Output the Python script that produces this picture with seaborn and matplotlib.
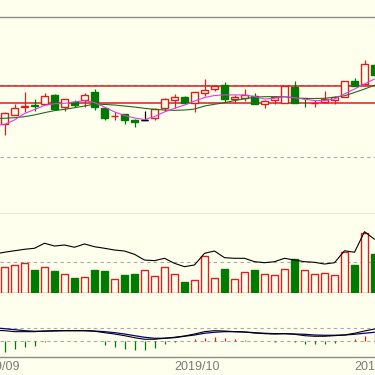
import numpy as np
import pandas as pd
import matplotlib
matplotlib.use("Agg")
import matplotlib.pyplot as plt
import matplotlib.transforms as mtransforms
import seaborn as sns

# ---------------- data ----------------
opens = [12.229, 12.295, 12.347, 12.358, 12.368, 12.431, 12.347, 12.382, 12.399, 12.451,
         12.340, 12.285, 12.299, 12.260, 12.257, 12.269, 12.340, 12.396, 12.415, 12.375,
         12.442, 12.472, 12.500, 12.403, 12.413, 12.427, 12.368, 12.399, 12.377, 12.488,
         12.413, 12.375, 12.384, 12.396, 12.419, 12.528, 12.507, 12.639]
highs = [12.313, 12.368, 12.451, 12.403, 12.444, 12.434, 12.406, 12.396, 12.444, 12.472,
         12.347, 12.309, 12.302, 12.264, 12.319, 12.337, 12.413, 12.438, 12.427, 12.451,
         12.542, 12.493, 12.523, 12.431, 12.469, 12.441, 12.396, 12.420, 12.493, 12.528,
         12.413, 12.399, 12.458, 12.424, 12.531, 12.549, 12.674, 12.646]
lows = [12.153, 12.292, 12.313, 12.319, 12.365, 12.330, 12.319, 12.347, 12.347, 12.326,
        12.257, 12.257, 12.229, 12.205, 12.257, 12.260, 12.319, 12.340, 12.375, 12.313,
        12.424, 12.455, 12.382, 12.378, 12.389, 12.365, 12.340, 12.368, 12.375, 12.375,
        12.349, 12.344, 12.378, 12.368, 12.417, 12.493, 12.503, 12.563]
closes = [12.306, 12.340, 12.351, 12.354, 12.427, 12.333, 12.403, 12.361, 12.431, 12.344,
          12.271, 12.288, 12.260, 12.243, 12.257, 12.333, 12.403, 12.417, 12.378, 12.448,
          12.465, 12.490, 12.403, 12.420, 12.431, 12.366, 12.392, 12.419, 12.493, 12.377,
          12.410, 12.378, 12.403, 12.420, 12.528, 12.495, 12.644, 12.569]

# moving averages (first value belongs to the day before the first visible candle)
ma5 = [12.218, 12.226, 12.257, 12.302, 12.330, 12.358, 12.370, 12.373, 12.382, 12.392, 12.378,
       12.347, 12.313, 12.288, 12.271, 12.260, 12.281, 12.313, 12.338, 12.361, 12.389,
       12.413, 12.427, 12.431, 12.431, 12.431, 12.420, 12.403, 12.408, 12.419, 12.412,
       12.401, 12.392, 12.392, 12.403, 12.438, 12.472, 12.507, 12.542]
ma10 = [12.265, 12.269, 12.273, 12.280, 12.292, 12.308, 12.322, 12.331, 12.342, 12.354, 12.368,
        12.365, 12.361, 12.354, 12.347, 12.338, 12.331, 12.326, 12.324, 12.326, 12.333,
        12.354, 12.366, 12.377, 12.392, 12.404, 12.415, 12.419, 12.419, 12.418, 12.411,
        12.406, 12.406, 12.408, 12.415, 12.425, 12.448, 12.472, 12.498]

volume = [2.51, 2.71, 2.96, 2.25, 2.51, 2.15, 1.83, 1.47, 1.56, 2.25,
          2.15, 1.37, 1.76, 1.86, 2.25, 1.63, 2.54, 1.86, 1.07, 1.27,
          3.61, 1.47, 2.34, 1.37, 2.05, 2.25, 1.83, 1.73, 2.34, 3.32,
          2.25, 1.83, 1.95, 1.73, 4.01, 2.74, 5.83, 3.81]
vol_up = [1, 1, 1, 0, 1, 0, 1, 0, 1, 0, 0, 1, 0, 0, 1, 1, 1, 1, 0, 1,
          1, 1, 0, 1, 1, 0, 1, 1, 1, 0, 1, 1, 1, 1, 1, 0, 1, 0]
vol_line = [3.81, 3.98, 4.13, 4.27, 4.37, 4.86, 4.59, 4.69, 4.47, 4.79, 4.52,
            4.37, 4.20, 4.10, 3.78, 3.22, 3.16, 3.39, 2.90, 2.57, 2.74,
            3.88, 4.10, 3.45, 3.39, 3.39, 3.06, 2.96, 3.06, 3.39, 3.22,
            3.06, 3.00, 2.83, 2.96, 4.13, 3.98, 5.99, 5.25]

dif = [0.0160, 0.0155, 0.0140, 0.0140, 0.0140, 0.0150, 0.0155, 0.0155, 0.0155, 0.0155, 0.0146,
       0.0125, 0.0105, 0.0080, 0.0050, 0.0026, 0.0026, 0.0041, 0.0056, 0.0075, 0.0105,
       0.0140, 0.0155, 0.0150, 0.0140, 0.0135, 0.0120, 0.0110, 0.0105, 0.0110, 0.0101,
       0.0080, 0.0071, 0.0071, 0.0080, 0.0090, 0.0116, 0.0150, 0.0180]
dea = [0.0197, 0.0185, 0.0170, 0.0155, 0.0146, 0.0146, 0.0150, 0.0155, 0.0155, 0.0155, 0.0150,
       0.0140, 0.0125, 0.0105, 0.0080, 0.0056, 0.0041, 0.0041, 0.0050, 0.0071, 0.0090,
       0.0116, 0.0131, 0.0140, 0.0140, 0.0135, 0.0125, 0.0116, 0.0110, 0.0110, 0.0105,
       0.0101, 0.0090, 0.0086, 0.0086, 0.0090, 0.0101, 0.0116, 0.0131]
macd_hist = [-0.0170, -0.0125, -0.0086, -0.0075, -0.0008, -0.0005, -0.0003, 0.0002, -0.0004, -0.0005,
             -0.0060, -0.0095, -0.0125, -0.0135, -0.0135, -0.0110, -0.0050, -0.0020, 0.0003, 0.0030,
             0.0050, 0.0065, 0.0040, 0.0030, 0.0015, 0.0005, 0.0005, -0.0015, 0.0005, -0.0010,
             -0.0050, -0.0050, -0.0050, -0.0035, -0.0005, 0.0030, 0.0080, 0.0125]

level_lines = [12.493, 12.375]
price_grid = [12.5, 12.0]
vol_grid = [3.0]
macd_grid = [0.0, 0.02]

# trading calendar (Sep 2 .. Nov 4 2019, holidays removed); first visible day = 2019-09-05
holidays = pd.to_datetime(["2019-09-13", "2019-10-01", "2019-10-02", "2019-10-03",
                           "2019-10-04", "2019-10-07"])
all_days = pd.bdate_range("2019-09-02", "2019-11-04")
all_days = all_days[~all_days.isin(holidays)]
first_visible = pd.Timestamp("2019-09-05")

# ---------------- style ----------------
BG = "#FFFFEE"
RED = "#DC1E1E"
GREEN = "#007A00"
MAGENTA = "#E03CE0"
MA10C = "#1F6B1F"
NAVY = "#000080"
GRID = "#A8A8A8"
FRAME = "#8A8A8A"

sns.set_theme(style="white", rc={"axes.facecolor": BG, "figure.facecolor": BG})
plt.rcParams["font.family"] = ["Liberation Sans", "DejaVu Sans"]

fig = plt.figure(figsize=(3.75, 3.75), dpi=100)
H = 375.0
ax1 = fig.add_axes([0, 1 - 213.5 / H, 1, (213.5 - 17) / H])
ax2 = fig.add_axes([0, 1 - 293 / H, 1, (293 - 213.5) / H])
ax3 = fig.add_axes([0, 1 - 357 / H, 1, (357 - 293) / H])

n = len(opens)
x = np.arange(n)
xm = np.arange(-1, n)
o = np.array(opens); c = np.array(closes)
hi = np.array(highs); lo = np.array(lows)
up = c > o
down = c < o
flat = c == o
body_lo = np.minimum(o, c)
body_hi = np.maximum(o, c)
edge = np.where(up, RED, np.where(down, GREEN, "#000000"))
face = np.where(down, GREEN, BG)

for ax in (ax1, ax2, ax3):
    ax.set_xlim(-0.45, 37.05)
    ax.set_xticks([]); ax.set_yticks([])
    for s in ("left", "right"):
        ax.spines[s].set_visible(False)
    for s in ("top", "bottom"):
        ax.spines[s].set_color(FRAME)
        ax.spines[s].set_linewidth(1.0)
ax2.spines["top"].set_visible(False)
ax3.spines["top"].set_visible(False)

# ---- price panel ----
ax1.set_ylim(11.6076, 12.9722)
for g in price_grid:
    ax1.axhline(g, color=GRID, lw=0.8, ls=(0, (3, 3)), zorder=1)
for lv in level_lines:
    ax1.axhline(lv, color=RED, lw=1.1, zorder=2)
ax1.vlines(x, body_hi, hi, colors=edge, lw=0.9, zorder=3)
ax1.vlines(x, lo, body_lo, colors=edge, lw=0.9, zorder=3)
ax1.bar(x, body_hi - body_lo, bottom=body_lo, width=0.74, color=face,
        edgecolor=edge, linewidth=1.0, zorder=4)
if flat.any():
    ax1.hlines(o[flat], x[flat] - 0.37, x[flat] + 0.37, colors="#000000", lw=1.0, zorder=4)
sns.lineplot(x=xm, y=ma10, ax=ax1, color=MA10C, lw=0.8, estimator=None, zorder=5)
sns.lineplot(x=xm, y=ma5, ax=ax1, color=MAGENTA, lw=0.8, estimator=None, zorder=5)

# ---- volume panel ----
v = np.array(volume)
vu = np.array(vol_up) == 1
ax2.set_ylim(0, 7.767)
for g in vol_grid:
    ax2.axhline(g, color=GRID, lw=0.8, ls=(0, (3, 3)), zorder=1)
ax2.bar(x, v, width=0.76, color=np.where(vu, BG, GREEN),
        edgecolor=np.where(vu, RED, GREEN), linewidth=1.0, zorder=3)
sns.lineplot(x=xm, y=vol_line, ax=ax2, color="#000000", lw=0.8, estimator=None, zorder=4)

# ---- MACD panel ----
mh = np.array(macd_hist)
ax3.set_ylim(-0.024, 0.072)
for g in macd_grid:
    ax3.axhline(g, color=GRID, lw=0.8, ls=(0, (3, 3)), zorder=1)
ax3.vlines(x, 0, mh, colors=np.where(mh > 0, RED, GREEN), lw=0.9, zorder=3)
sns.lineplot(x=xm, y=dea, ax=ax3, color=NAVY, lw=0.9, estimator=None, zorder=4)
sns.lineplot(x=xm, y=dif, ax=ax3, color="#000000", lw=0.8, estimator=None, zorder=4)
for ax in (ax1, ax2, ax3):
    ax.set_xlabel(""); ax.set_ylabel("")
    ax.set_xticks([]); ax.set_yticks([])

# ---- month labels ----
offset = int(np.where(all_days == first_visible)[0][0])
months = all_days.to_period("M")
first_of_month = [i for i in range(len(all_days)) if i == 0 or months[i] != months[i - 1]]
trans = mtransforms.blended_transform_factory(ax3.transData, fig.transFigure)
for i in first_of_month:
    ax3.text(i - offset, 1 - 367 / H, all_days[i].strftime("%Y/%m"), transform=trans,
             ha="left", va="center", fontsize=9, color="#7A7A7A", clip_on=False)

fig.savefig("out.png", dpi=100, facecolor=BG)
